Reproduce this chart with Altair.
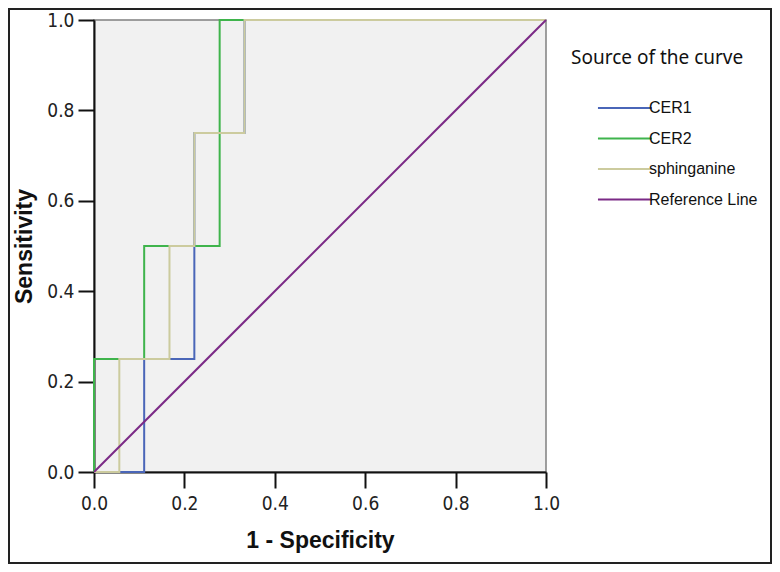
import altair as alt
import pandas as pd

# ROC curve points (1 - specificity, sensitivity)
cer1_x = [0.0, 0.111, 0.111, 0.222, 0.222, 0.222, 0.333, 0.333, 1.0]
cer1_y = [0.0, 0.0, 0.25, 0.25, 0.5, 0.75, 0.75, 1.0, 1.0]
cer2_x = [0.0, 0.0, 0.111, 0.111, 0.278, 0.278, 1.0]
cer2_y = [0.0, 0.25, 0.25, 0.5, 0.5, 1.0, 1.0]
sph_x = [0.0, 0.056, 0.056, 0.167, 0.167, 0.222, 0.222, 0.333, 0.333, 1.0]
sph_y = [0.0, 0.0, 0.25, 0.25, 0.5, 0.5, 0.75, 0.75, 1.0, 1.0]
ref_x = [0.0, 1.0]
ref_y = [0.0, 1.0]

series_names = ["CER1", "CER2", "sphinganine", "Reference Line"]
series_colors = ["#4a66b8", "#3fb44c", "#cccb9e", "#7b2a86"]
tick_values = [0.0, 0.2, 0.4, 0.6, 0.8, 1.0]

rows = []
for name, xs, ys in zip(series_names, [cer1_x, cer2_x, sph_x, ref_x], [cer1_y, cer2_y, sph_y, ref_y]):
    for i, (a, b) in enumerate(zip(xs, ys)):
        rows.append({"series": name, "fpr": a, "tpr": b, "idx": i})
df = pd.DataFrame(rows)

W, H = 452, 452
PL, PT, PR, PB = 86, 12, 226, 92
NARROW = "Liberation Sans Narrow, DejaVu Sans Condensed, Roboto Condensed, Liberation Sans"

lines = alt.Chart(df).mark_line(strokeWidth=2).encode(
    x=alt.X("fpr:Q", scale=alt.Scale(domain=[0, 1], nice=False),
            axis=alt.Axis(values=tick_values, format=".1f", title="1 - Specificity")),
    y=alt.Y("tpr:Q", scale=alt.Scale(domain=[0, 1], nice=False),
            axis=alt.Axis(values=tick_values, format=".1f", title="Sensitivity")),
    color=alt.Color("series:N", scale=alt.Scale(domain=series_names, range=series_colors),
                    sort=series_names,
                    legend=alt.Legend(title=None, orient="none", legendX=523, legendY=80,
                                      symbolType="M-5,0H5", symbolSize=117,
                                      symbolStrokeWidth=2, labelOffset=16,
                                      labelFont="Liberation Sans", labelFontSize=16,
                                      labelColor="#111", rowPadding=14.5, padding=0)),
    order="idx:Q",
)

legend_title = alt.Chart(pd.DataFrame({"t": ["Source of the curve"]})).mark_text(
    align="left", baseline="middle", font="Noto Sans", fontSize=19, color="#111"
).encode(x=alt.value(477), y=alt.value(38), text="t:N")

frame = alt.Chart(pd.DataFrame({"t": [0]})).mark_rect(
    fill=None, stroke="#222", strokeWidth=2, clip=False
).encode(x=alt.value(-PL + 1), x2=alt.value(W + PR - 1), y=alt.value(-PT + 1), y2=alt.value(H + PB - 1))

chart = alt.layer(lines, legend_title, frame).properties(
    width=W, height=H,
    autosize=alt.AutoSizeParams(type="none"),
    padding={"left": PL, "top": PT, "right": PR, "bottom": PB},
).configure_view(
    fill="#f1f1f1", stroke="#808080", strokeWidth=1.5
).configure_axis(
    grid=False, tickSize=16, tickWidth=2, tickColor="#111", domainColor="#111", domainWidth=2,
    labelFont=NARROW, labelFontSize=19, labelColor="#222", labelFlush=False,
    titleFont="Liberation Sans", titleFontWeight="bold", titleFontSize=23, titleColor="#111",
).configure_axisX(
    labelPadding=6, titlePadding=16
).configure_axisY(
    labelPadding=4, titlePadding=10
)

chart.save("out.html", embed_options={"renderer": "svg", "actions": False})
